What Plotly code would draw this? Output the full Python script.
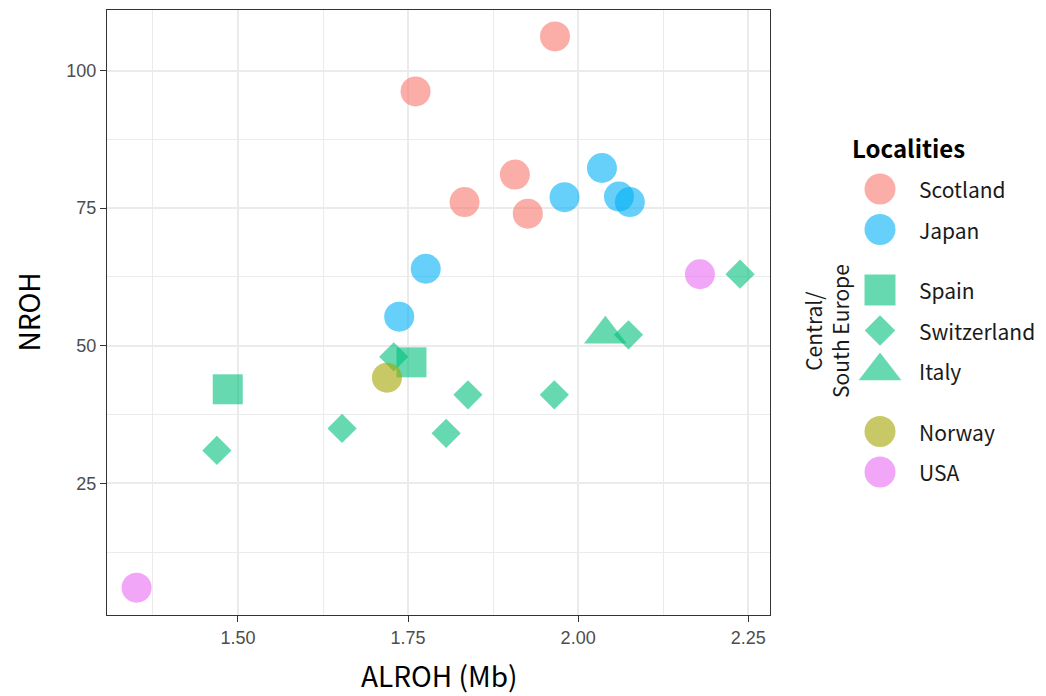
import plotly.graph_objects as go

# ---------------- data ----------------
localities = ["Scotland", "Japan", "Spain", "Switzerland", "Italy", "Norway", "USA"]
legend_groups = [0, 0, 1, 1, 1, 2, 2]

scotland_x = [1.966, 1.761, 1.907, 1.833, 1.926]
scotland_y = [106.2, 96.2, 81.1, 76.1, 74.0]
japan_x = [2.035, 1.980, 2.060, 2.076, 1.776, 1.737]
japan_y = [82.3, 77.0, 77.1, 76.1, 64.0, 55.3]
spain_x = [1.755, 1.485]
spain_y = [47.0, 42.1]
switzerland_x = [2.238, 2.074, 1.729, 1.838, 1.965, 1.653, 1.806, 1.469]
switzerland_y = [63.0, 52.0, 48.0, 41.1, 41.1, 35.0, 34.1, 31.0]
italy_x = [2.040]
italy_y = [52.1]
norway_x = [1.719]
norway_y = [44.2]
usa_x = [2.179, 1.351]
usa_y = [63.0, 6.06]

x_ticks = [1.50, 1.75, 2.00, 2.25]
x_tick_labels = ["1.50", "1.75", "2.00", "2.25"]
y_ticks = [25, 50, 75, 100]
y_tick_labels = ["25", "50", "75", "100"]

# ---------------- styling ----------------
RED, OLIVE, GREEN, BLUE, PINK = "#F8766D", "#A3A500", "#00BF7D", "#00B0F6", "#E76BF3"
ALPHA = 0.6
series = [
    (scotland_x, scotland_y, RED, "circle", 30, 31),
    (japan_x, japan_y, BLUE, "circle", 30, 31),
    (spain_x, spain_y, GREEN, "square", 30, 31),
    (switzerland_x, switzerland_y, GREEN, "diamond", 22.5, 23.5),
    (italy_x, italy_y, GREEN, "triangle-up", 37, 37),
    (norway_x, norway_y, OLIVE, "circle", 30, 31),
    (usa_x, usa_y, PINK, "circle", 30, 31),
]

# page geometry (the browser page has an 8px body margin around the figure)
PAGE_W, PAGE_H = 1046, 696
OFF = 8
W, H = PAGE_W - OFF, PAGE_H - OFF
PANEL_L, PANEL_R, PANEL_T, PANEL_B = 107, 770, 10, 615   # page pixels
AREA_R = 1036                                              # page pixels
LEG_LEFT = 790

ML = PANEL_L - OFF
MT = PANEL_T - OFF
MR = (PAGE_W - AREA_R)
MB = PAGE_H - PANEL_B
PW = W - ML - MR
PH = H - MT - MB

def px_to_paper_x(p):
    return (p - OFF - ML) / PW

def px_to_paper_y(p):
    return (H - MB - (p - OFF)) / PH

fig = go.Figure()

for (name, (xs, ys, col, sym, sz, lsz)) in zip(localities, series):
    fig.add_trace(go.Scatter(
        x=xs, y=ys, mode="markers", name=name, showlegend=False,
        marker=dict(color=col, symbol=sym, size=sz, opacity=ALPHA, line=dict(width=0)),
        xaxis="x", yaxis="y", hoverinfo="x+y+name",
    ))

# ---------------- custom legend (on a hidden pixel-space axis) ----------------
LEG_Y0, LEG_ROW, LEG_GAP = 189, 40.5, 20
KEY_X, LABEL_X = 880, 917
annotations = []
for i, (name, grp, (xs, ys, col, sym, sz, lsz)) in enumerate(zip(localities, legend_groups, series)):
    ly = LEG_Y0 + i * LEG_ROW + grp * LEG_GAP
    fig.add_trace(go.Scatter(
        x=[KEY_X], y=[ly], mode="markers", showlegend=False, hoverinfo="skip",
        marker=dict(color=col, symbol=sym, size=lsz, opacity=ALPHA, line=dict(width=0)),
        xaxis="x2", yaxis="y2",
    ))
    annotations.append(dict(
        x=LABEL_X, y=ly, xref="x2", yref="y2", text=name, showarrow=False,
        xanchor="left", yanchor="middle",
        font=dict(family="Noto Sans CJK JP", size=21, color="#1A1A1A"),
    ))

annotations.append(dict(
    x=850, y=147, xref="x2", yref="y2", text="<b>Localities</b>", showarrow=False,
    xanchor="left", yanchor="middle",
    font=dict(family="Noto Sans CJK JP", size=24, color="#000000"),
))
annotations.append(dict(
    x=826, y=331, xref="x2", yref="y2", text="Central/<br>South Europe", showarrow=False,
    xanchor="center", yanchor="middle", textangle=-90, align="center",
    font=dict(family="Noto Sans CJK JP", size=21, color="#1A1A1A"),
))

# axis titles
annotations.append(dict(
    x=px_to_paper_x((PANEL_L + PANEL_R) / 2), y=px_to_paper_y(675), xref="paper", yref="paper",
    text="ALROH (Mb)", showarrow=False, xanchor="center", yanchor="middle",
    font=dict(family="Noto Sans CJK JP", size=28, color="#000000"),
))
annotations.append(dict(
    x=px_to_paper_x(27), y=px_to_paper_y((PANEL_T + PANEL_B) / 2), xref="paper", yref="paper",
    text="NROH", showarrow=False, xanchor="center", yanchor="middle", textangle=-90,
    font=dict(family="Noto Sans CJK JP", size=28, color="#000000"),
))

axis_common = dict(
    showline=True, mirror=True, linecolor="#333333", linewidth=1.3,
    ticks="outside", ticklen=6, tickwidth=1.3, tickcolor="#333333",
    showgrid=True, gridcolor="#EBEBEB", gridwidth=1.5, zeroline=False,
    tickfont=dict(family="Liberation Sans, Arial", size=18, color="#4D4D4D"),
    tickmode="array",
)

fig.update_layout(
    width=W, height=H,
    margin=dict(l=ML, r=MR, t=MT, b=MB),
    paper_bgcolor="white", plot_bgcolor="white",
    showlegend=False,
    xaxis=dict(
        domain=[0, px_to_paper_x(PANEL_R)], range=[1.3075, 2.282],
        tickvals=x_ticks, ticktext=x_tick_labels,
        minor=dict(tickvals=[1.375, 1.625, 1.875, 2.125], showgrid=True,
                   gridcolor="#EBEBEB", gridwidth=1, ticks=""),
        anchor="y", **axis_common,
    ),
    yaxis=dict(
        domain=[0, 1], range=[1.1, 111.0],
        tickvals=y_ticks, ticktext=y_tick_labels,
        minor=dict(tickvals=[12.5, 37.5, 62.5, 87.5], showgrid=True,
                   gridcolor="#EBEBEB", gridwidth=1, ticks=""),
        anchor="x", **axis_common,
    ),
    xaxis2=dict(domain=[px_to_paper_x(LEG_LEFT), 1], range=[LEG_LEFT, AREA_R],
                visible=False, fixedrange=True, anchor="y2"),
    yaxis2=dict(domain=[0, 1], range=[PANEL_B, PANEL_T], visible=False, fixedrange=True, anchor="x2"),
    annotations=annotations,
)

fig.write_html("out.html")
